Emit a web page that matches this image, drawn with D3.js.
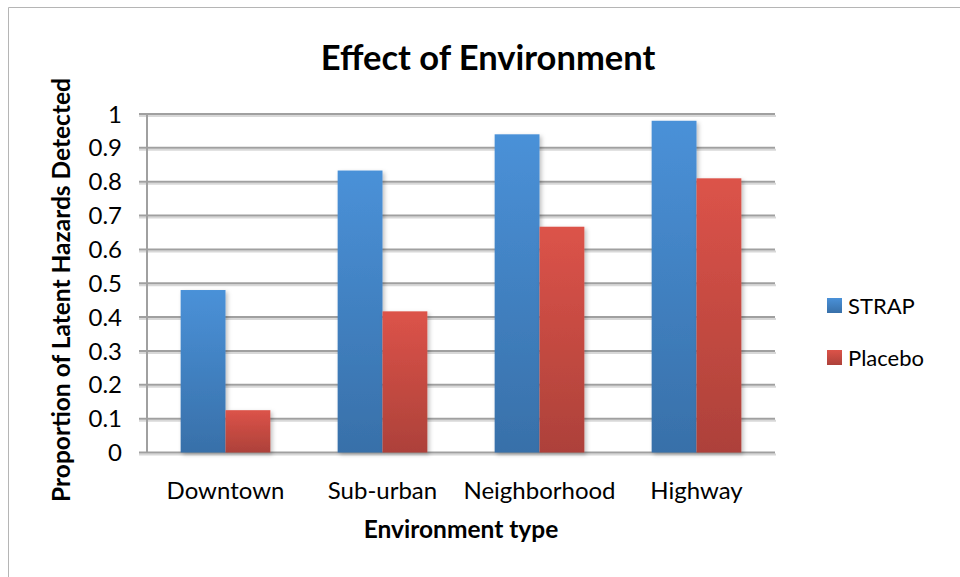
<!DOCTYPE html>
<meta charset="utf-8">
<style>
  body { margin: 0; background: #fff; }
  text { font-family: Lato, "Open Sans", sans-serif; fill: #000; }
  .grid line { stroke: #a0a0a0; stroke-width: 2px; }
  .grid-shadow line { stroke: #d8d8d8; stroke-width: 2px; }
  .tick-label { font-size: 24px; }
</style>
<body>
<svg id="chart" width="960" height="577"></svg>
<script src="https://d3js.org/d3.v7.min.js"></script>
<script>
  // chart values
  var categories = ['Downtown', 'Sub-urban', 'Neighborhood', 'Highway'];
  var seriesNames = ['STRAP', 'Placebo'];
  var strapValues = [0.48, 0.833, 0.94, 0.98];
  var placeboValues = [0.125, 0.417, 0.667, 0.81];
  var yTicks = [0, 0.1, 0.2, 0.3, 0.4, 0.5, 0.6, 0.7, 0.8, 0.9, 1];

  var svg = d3.select('#chart');
  var margin = {top: 114, left: 147, right: 185, bottom: 124};
  var width = 960 - margin.left - margin.right,
      height = 577 - margin.top - margin.bottom - 0.5;

  var defs = svg.append('defs');
  function grad(id, top, bottom) {
    var g = defs.append('linearGradient').attr('id', id)
      .attr('x1', 0).attr('y1', 0).attr('x2', 0).attr('y2', 1);
    g.append('stop').attr('offset', '0%').attr('stop-color', top);
    g.append('stop').attr('offset', '100%').attr('stop-color', bottom);
  }
  grad('g-strap', '#4a91d8', '#3870a9');
  grad('g-placebo', '#dc5349', '#ad413a');
  var shadow = defs.append('filter').attr('id', 'shadow')
    .attr('x', '-20%').attr('y', '-20%').attr('width', '150%').attr('height', '150%');
  shadow.append('feDropShadow').attr('dx', 2).attr('dy', 2)
    .attr('stdDeviation', 2).attr('flood-color', '#000').attr('flood-opacity', 0.25);

  // outer border
  svg.append('path')
    .attr('d', 'M8.5,577 L8.5,7.5 L960,7.5')
    .attr('fill', 'none').attr('stroke', '#b5b5b5').attr('stroke-width', 1);

  var g = svg.append('g')
    .attr('transform', 'translate(' + margin.left + ',' + margin.top + ')');

  var x0 = d3.scaleBand().domain(categories).range([0, width]).paddingInner(0).paddingOuter(0);
  var bw = x0.bandwidth() / 3.5;
  var x1 = d3.scaleBand().domain(seriesNames)
    .range([0.75 * bw, 2.75 * bw]);
  var y = d3.scaleLinear().domain([0, 1]).range([height, 0]);

  // gridlines (with a soft shadow line just below)
  g.append('g').attr('class', 'grid-shadow')
    .selectAll('line').data(yTicks).join('line')
    .attr('x1', -8).attr('x2', width + 1)
    .attr('y1', function(d) { return y(d) + 2; })
    .attr('y2', function(d) { return y(d) + 2; });
  g.append('g').attr('class', 'grid')
    .selectAll('line').data(yTicks).join('line')
    .attr('x1', -8).attr('x2', width)
    .attr('y1', function(d) { return y(d); })
    .attr('y2', function(d) { return y(d); });

  // y axis line
  g.append('line').attr('x1', 0).attr('x2', 0).attr('y1', 0).attr('y2', height)
    .attr('stroke', '#a0a0a0').attr('stroke-width', 2);

  // y tick labels
  g.append('g').selectAll('text').data(yTicks).join('text')
    .attr('class', 'tick-label')
    .attr('x', -25)
    .attr('y', function(d) { return y(d); })
    .attr('dy', '0.36em')
    .attr('text-anchor', 'end')
    .text(function(d) { return d3.format('')(d); });

  // bars
  var values = {STRAP: strapValues, Placebo: placeboValues};
  var fills = {STRAP: 'url(#g-strap)', Placebo: 'url(#g-placebo)'};
  seriesNames.forEach(function(s) {
    g.append('g').selectAll('rect').data(categories).join('rect')
      .attr('x', function(c) { return x0(c) + x1(s); })
      .attr('width', x1.bandwidth())
      .attr('y', function(c, i) { return y(values[s][i]); })
      .attr('height', function(c, i) { return height - y(values[s][i]); })
      .attr('fill', fills[s])
      .attr('filter', 'url(#shadow)');
  });

  // x tick labels
  g.append('g').selectAll('text').data(categories).join('text')
    .attr('class', 'tick-label')
    .attr('x', function(c) { return x0(c) + x0.bandwidth() / 2; })
    .attr('y', height + 46)
    .attr('text-anchor', 'middle')
    .text(function(c) { return c; });

  // titles
  svg.append('text').attr('x', 488).attr('y', 70)
    .attr('text-anchor', 'middle')
    .style('font-size', '34.5px').style('font-weight', 'bold')
    .text('Effect of Environment');

  svg.append('text').attr('x', margin.left + width / 2).attr('y', 538)
    .attr('text-anchor', 'middle')
    .style('font-size', '24.5px').style('font-weight', 'bold')
    .text('Environment type');

  svg.append('text')
    .attr('transform', 'translate(70,290) rotate(-90)')
    .attr('text-anchor', 'middle')
    .style('font-size', '24.5px').style('font-weight', 'bold')
    .text('Proportion of Latent Hazards Detected');

  // legend
  var legend = svg.append('g').attr('transform', 'translate(827,298)');
  seriesNames.forEach(function(s, i) {
    var row = legend.append('g').attr('transform', 'translate(0,' + (i * 52) + ')');
    row.append('rect').attr('width', 15).attr('height', 15).attr('fill', fills[s]);
    row.append('text').attr('x', 21).attr('y', 8).attr('dy', '0.36em')
      .style('font-size', '22px').text(s);
  });
</script>
</body>
